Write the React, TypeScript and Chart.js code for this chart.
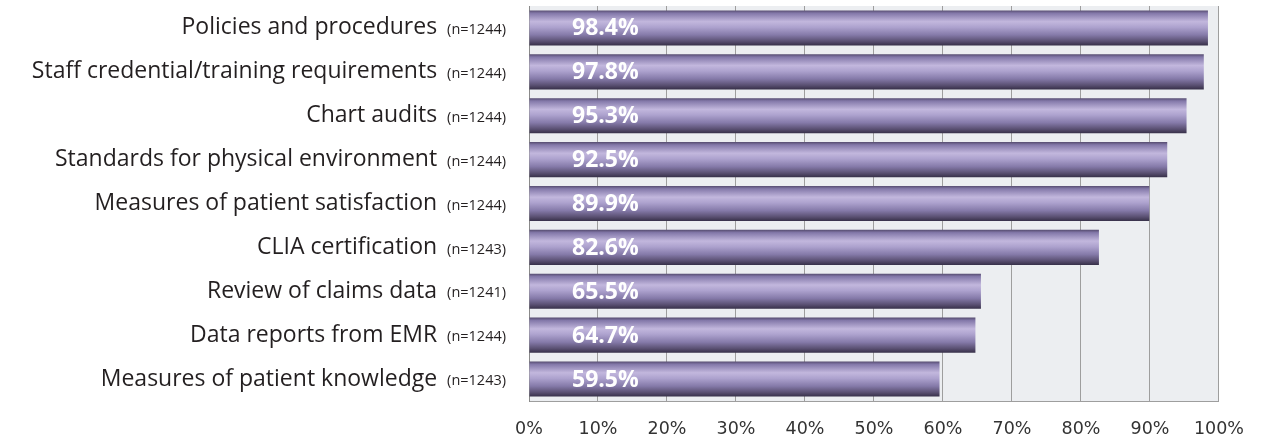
import React, { useEffect, useRef } from "react";
import { Chart, registerables } from "chart.js";

Chart.register(...registerables);

const categories = [
  "Policies and procedures",
  "Staff credential/training requirements",
  "Chart audits",
  "Standards for physical environment",
  "Measures of patient satisfaction",
  "CLIA certification",
  "Review of claims data",
  "Data reports from EMR",
  "Measures of patient knowledge",
];
const sampleSizes = ["(n=1244)", "(n=1244)", "(n=1244)", "(n=1244)", "(n=1244)", "(n=1243)", "(n=1241)", "(n=1244)", "(n=1243)"];
const percentages = [98.4, 97.8, 95.3, 92.5, 89.9, 82.6, 65.5, 64.7, 59.5];

const BAR_PCT = 0.8;

// Cylinder-like shading across each bar's thickness
const barFill = (ctx: any) => {
  const chart = ctx.chart;
  const yScale = chart.scales?.y;
  if (!chart.chartArea || !yScale) return "#9a8fc0";
  const center = yScale.getPixelForValue(ctx.dataIndex);
  const half = (yScale.height / categories.length) * BAR_PCT / 2;
  const g = chart.ctx.createLinearGradient(0, center - half, 0, center + half);
  g.addColorStop(0, "#564c70");
  g.addColorStop(0.08, "#8378a9");
  g.addColorStop(0.32, "#c2b7dd");
  g.addColorStop(0.48, "#ada2ce");
  g.addColorStop(0.7, "#857aa9");
  g.addColorStop(0.88, "#5a5072");
  g.addColorStop(1, "#373049");
  return g;
};

const plotBackground = {
  id: "plotBackground",
  beforeDraw(chart: any) {
    const { ctx, chartArea: a } = chart;
    ctx.save();
    ctx.fillStyle = "#eceef1";
    ctx.fillRect(a.left, a.top, a.right - a.left, a.bottom - a.top);
    ctx.restore();
  },
};

const sideLabels = {
  id: "sideLabels",
  afterDraw(chart: any) {
    const { ctx } = chart;
    const y = chart.scales.y;
    const x = chart.scales.x;
    const meta = chart.getDatasetMeta(0);
    ctx.save();
    ctx.textBaseline = "middle";
    categories.forEach((label, i) => {
      const cy = y.getPixelForValue(i);
      ctx.textAlign = "right";
      ctx.fillStyle = "#231f20";
      ctx.font = "14.5px 'Open Sans'";
      const nRight = x.left - 23;
      ctx.fillText(sampleSizes[i], nRight, cy + 2);
      const nW = ctx.measureText(sampleSizes[i]).width;
      ctx.font = "23px 'Open Sans'";
      ctx.fillText(label, nRight - nW - 10, cy);
      const bar = meta.data[i];
      ctx.textAlign = "left";
      ctx.fillStyle = "#ffffff";
      ctx.font = "bold 23px 'Open Sans'";
      ctx.fillText(percentages[i].toFixed(1) + "%", x.left + 43, bar.y + 1);
    });
    ctx.restore();
  },
};

export default function App() {
  const ref = useRef<HTMLCanvasElement>(null);
  useEffect(() => {
    document.body.style.margin = "0";
    const chart = new Chart(ref.current!, {
      type: "bar",
      data: {
        labels: categories,
        datasets: [
          {
            data: percentages,
            backgroundColor: barFill,
            borderWidth: 0,
            barPercentage: BAR_PCT,
            categoryPercentage: 1,
          },
        ],
      },
      options: {
        indexAxis: "y",
        animation: false,
        responsive: false,
        layout: { padding: { left: 529, right: 41, top: 6, bottom: 0 } },
        plugins: { legend: { display: false }, tooltip: { enabled: false } },
        scales: {
          x: {
            min: 0,
            max: 100,
            afterFit: (s: any) => {
              s.height = 36;
            },
            ticks: {
              stepSize: 10,
              padding: 18,
              maxRotation: 0,
              color: "#333333",
              font: { family: "'DejaVu Sans'", size: 17.5 },
              callback: (v: any) => v + "%",
            },
            grid: { color: "#9e9e9e", lineWidth: 1, drawTicks: false },
            border: { display: true, color: "#9e9e9e" },
          },
          y: {
            afterFit: (s: any) => {
              s.width = 0;
            },
            ticks: { display: false },
            grid: { display: false },
            border: { display: true, color: "#8a8a8a" },
          },
        },
      },
      plugins: [plotBackground, sideLabels],
    });
    return () => chart.destroy();
  }, []);
  return <canvas ref={ref} width={1262} height={437} style={{ display: "block" }} />;
}
